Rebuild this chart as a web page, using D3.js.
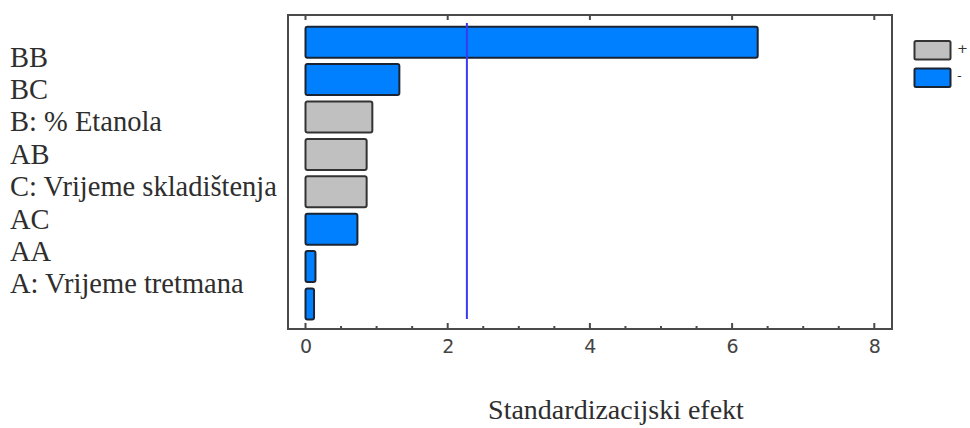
<!DOCTYPE html>
<html>
<head>
<meta charset="utf-8">
<script src="https://cdn.jsdelivr.net/npm/d3@7"></script>
<style>
  html, body { margin: 0; padding: 0; background: #fff; }
  svg { display: block; }
</style>
</head>
<body>
<svg id="chart" width="970" height="428"></svg>
<script>
// ---- data ----
const categories = ["BB", "BC", "B: % Etanola", "AB", "C: Vrijeme skladištenja", "AC", "AA", "A: Vrijeme tretmana"];
const effects = [6.36, 1.32, 0.94, 0.86, 0.86, 0.73, 0.14, 0.12];
const signs = ["-", "-", "+", "+", "+", "-", "-", "-"];
const xTicks = [0, 2, 4, 6, 8];
const criticalValue = 2.27;
const legendItems = ["+", "-"];
const axisTitle = "Standardizacijski efekt";

// ---- layout ----
const svg = d3.select("#chart");
const frame = { left: 288, right: 892, top: 15, bottom: 329 };
const colors = { "+": "#c0c0c0", "-": "#0080ff" };
const strokes = { "+": "#333333", "-": "#1a2433" };
const serif = "'Liberation Serif', 'Times New Roman', Times, serif";

const x = d3.scaleLinear().domain([0, 8]).range([305.5, 874.3]);
const y = d3.scaleBand().domain(categories).range([23.5, 322.7])
  .paddingInner(0.17).paddingOuter(0.085);
const yLabel = d3.scalePoint().domain(categories).range([66.7, 293.3]);

// frame
svg.append("rect")
  .attr("x", frame.left).attr("y", frame.top)
  .attr("width", frame.right - frame.left).attr("height", frame.bottom - frame.top)
  .attr("fill", "none").attr("stroke", "#4a4a4a").attr("stroke-width", 2);

// bottom axis (ticks inward)
const minorTicks = d3.range(0, 8.01, 0.5).filter(v => !xTicks.includes(v));
const bottom = svg.append("g").attr("transform", `translate(0,${frame.bottom})`);
bottom.call(d3.axisBottom(x).tickValues(xTicks).tickSize(0).tickPadding(11).tickFormat(d3.format("d")))
  .call(g => g.select(".domain").remove())
  .call(g => g.selectAll("text")
    .attr("font-family", "'DejaVu Sans', Verdana, sans-serif")
    .attr("font-size", 19).attr("fill", "#444"));
bottom.selectAll(".major").data(xTicks).join("line")
  .attr("x1", d => x(d)).attr("x2", d => x(d)).attr("y1", 0).attr("y2", -6)
  .attr("stroke", "#4a4a4a").attr("stroke-width", 2);
bottom.selectAll(".minor").data(minorTicks).join("line")
  .attr("x1", d => x(d)).attr("x2", d => x(d)).attr("y1", 0).attr("y2", -3)
  .attr("stroke", "#4a4a4a").attr("stroke-width", 2);

// top ticks (inward)
svg.append("g").selectAll("line").data(xTicks).join("line")
  .attr("x1", d => x(d)).attr("x2", d => x(d))
  .attr("y1", frame.top).attr("y2", frame.top + 5)
  .attr("stroke", "#4a4a4a").attr("stroke-width", 2);

// bars
svg.append("g").selectAll("rect").data(categories).join("rect")
  .attr("x", x(0))
  .attr("y", d => y(d))
  .attr("width", (d, i) => x(effects[i]) - x(0))
  .attr("height", y.bandwidth())
  .attr("rx", 2)
  .attr("fill", (d, i) => colors[signs[i]])
  .attr("stroke", (d, i) => strokes[signs[i]])
  .attr("stroke-width", 2);

// critical line
svg.append("line")
  .attr("x1", x(criticalValue)).attr("x2", x(criticalValue))
  .attr("y1", 23).attr("y2", 319)
  .attr("stroke", "#3a3af5").attr("stroke-width", 2);

// category labels
svg.append("g").selectAll("text").data(categories).join("text")
  .attr("x", 10).attr("y", d => yLabel(d))
  .attr("font-family", serif)
  .attr("font-size", 28.5).attr("fill", "#2e2e2e")
  .text(d => d);

// axis title
svg.append("text")
  .attr("x", 616).attr("y", 419)
  .attr("text-anchor", "middle")
  .attr("font-family", serif)
  .attr("font-size", 28).attr("fill", "#2e2e2e")
  .text(axisTitle);

// legend
const legend = svg.append("g");
legend.selectAll("rect").data(legendItems).join("rect")
  .attr("x", 914.5).attr("y", (d, i) => 41 + i * 27.5)
  .attr("width", 36).attr("height", 18.5).attr("rx", 1.5)
  .attr("fill", d => colors[d]).attr("stroke", d => strokes[d]).attr("stroke-width", 2);
legend.selectAll("text").data(legendItems).join("text")
  .attr("x", 957).attr("y", (d, i) => 49 + i * 27.5)
  .attr("dominant-baseline", "middle")
  .attr("font-family", "'DejaVu Sans', sans-serif")
  .attr("font-size", 13).attr("fill", "#333")
  .text(d => d);
</script>
</body>
</html>
